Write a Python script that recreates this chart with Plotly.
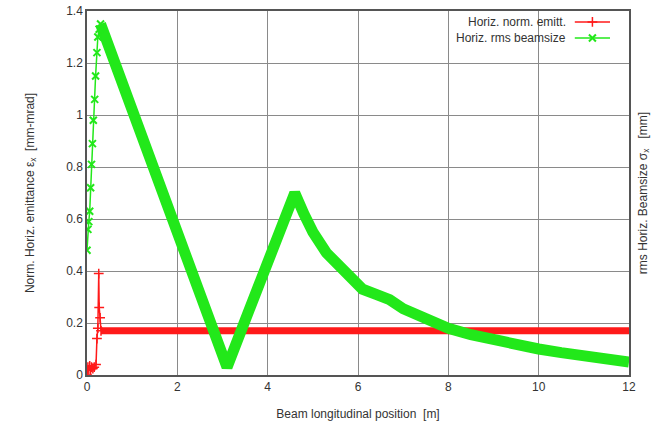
import plotly.graph_objects as go

# ---- data ----
# Horizontal rms beamsize: steep rise region (sparse markers) and dense main region
size_x_rise = [0.0, 0.02, 0.04, 0.06, 0.08, 0.10, 0.12, 0.14, 0.17, 0.19, 0.22, 0.24, 0.27, 0.30]
size_y_rise = [0.48, 0.56, 0.59, 0.63, 0.72, 0.81, 0.89, 0.98, 1.06, 1.15, 1.24, 1.30, 1.33, 1.35]
size_x_main = [0.30, 0.6, 1.0, 1.5, 2.0, 2.5, 3.1, 3.5, 4.0, 4.6, 4.8, 5.0, 5.3, 5.7, 6.1, 6.4, 6.7,
               7.0, 7.5, 8.0, 8.5, 9.0, 9.5, 10.0, 10.5, 11.0, 11.5, 12.0]
size_y_main = [1.35, 1.21, 1.02, 0.79, 0.56, 0.32, 0.03, 0.21, 0.43, 0.70, 0.62, 0.55, 0.47, 0.40, 0.33, 0.31, 0.29,
               0.255, 0.215, 0.18, 0.155, 0.135, 0.117, 0.10, 0.086, 0.073, 0.061, 0.05]

# Horizontal normalized emittance
emit_x_rise = [0.0, 0.02, 0.04, 0.06, 0.08, 0.10, 0.13, 0.16, 0.20, 0.22, 0.24, 0.26, 0.27, 0.29, 0.31]
emit_y_rise = [0.0, 0.03, 0.02, 0.035, 0.02, 0.03, 0.025, 0.03, 0.04, 0.14, 0.18, 0.39, 0.26, 0.22, 0.17]
emit_x_main = [0.31, 1.0, 2.0, 3.0, 4.0, 5.0, 6.0, 7.0, 8.0, 9.0, 10.0, 11.0, 12.0]
emit_y_main = [0.17, 0.17, 0.17, 0.17, 0.17, 0.17, 0.17, 0.17, 0.17, 0.17, 0.17, 0.17, 0.17]

x_ticks = [0, 2, 4, 6, 8, 10, 12]
y_ticks = [0, 0.2, 0.4, 0.6, 0.8, 1, 1.2, 1.4]
y_tick_labels = ["0", "0.2", "0.4", "0.6", "0.8", "1", "1.2", "1.4"]

legend_labels = ["Horiz. norm. emitt.", "Horiz. rms beamsize"]

RED = "#ff1a1a"
GREEN = "#22e81a"
TXT = "#333333"
FONT = "Liberation Sans, Arial, sans-serif"

fig = go.Figure()

# emittance
fig.add_trace(go.Scatter(x=emit_x_main, y=emit_y_main, mode="lines",
                         line=dict(color=RED, width=7), showlegend=False, hoverinfo="skip"))
fig.add_trace(go.Scatter(x=emit_x_rise, y=emit_y_rise, mode="lines+markers",
                         line=dict(color=RED, width=1.5),
                         marker=dict(symbol="cross-thin", size=7, line=dict(color=RED, width=1.5)),
                         showlegend=False))
# beamsize
fig.add_trace(go.Scatter(x=size_x_main, y=size_y_main, mode="lines",
                         line=dict(color=GREEN, width=11), showlegend=False))
fig.add_trace(go.Scatter(x=size_x_rise, y=size_y_rise, mode="lines+markers",
                         line=dict(color=GREEN, width=1.5),
                         marker=dict(symbol="x-thin", size=7, line=dict(color=GREEN, width=2)),
                         showlegend=False))

# legend samples drawn on a hidden 0..1 axis pair
LY = [0.970, 0.926]
fig.add_trace(go.Scatter(x=[0.900, 0.965], y=[LY[0], LY[0]], xaxis="x3", yaxis="y3",
                         mode="lines", line=dict(color=RED, width=1.5), showlegend=False, hoverinfo="skip"))
fig.add_trace(go.Scatter(x=[0.9325], y=[LY[0]], xaxis="x3", yaxis="y3", mode="markers",
                         marker=dict(symbol="cross-thin", size=7, line=dict(color=RED, width=1.5)),
                         showlegend=False, hoverinfo="skip"))
fig.add_trace(go.Scatter(x=[0.900, 0.965], y=[LY[1], LY[1]], xaxis="x3", yaxis="y3",
                         mode="lines", line=dict(color=GREEN, width=1.5), showlegend=False, hoverinfo="skip"))
fig.add_trace(go.Scatter(x=[0.9325], y=[LY[1]], xaxis="x3", yaxis="y3", mode="markers",
                         marker=dict(symbol="x-thin", size=7, line=dict(color=GREEN, width=2)),
                         showlegend=False, hoverinfo="skip"))

for i, lab in enumerate(legend_labels):
    fig.add_annotation(x=0.887, y=LY[i], xref="paper", yref="paper", text=lab,
                       showarrow=False, xanchor="right", yanchor="middle",
                       font=dict(family=FONT, size=12, color=TXT))

fig.update_layout(
    width=659, height=425,
    margin=dict(l=87, r=30, t=11, b=50),
    paper_bgcolor="white", plot_bgcolor="white",
    font=dict(family=FONT, size=12, color=TXT),
    xaxis=dict(range=[0, 12], tickvals=x_ticks, ticktext=[str(v) for v in x_ticks],
               showgrid=True, gridcolor="#8a8a8a", gridwidth=1, zeroline=False,
               showline=True, linecolor="#555", linewidth=1.5, mirror=True,
               ticks="", tickfont=dict(size=12, color=TXT), automargin=False,
               title=dict(text="Beam longitudinal position  [m]", standoff=16,
                          font=dict(size=12, color=TXT))),
    yaxis=dict(range=[0, 1.4], tickvals=y_ticks, ticktext=y_tick_labels,
               showgrid=True, gridcolor="#8a8a8a", gridwidth=1, zeroline=False,
               showline=True, linecolor="#555", linewidth=1.5, mirror=True,
               ticks="", tickfont=dict(size=12, color=TXT), automargin=False,
               title=dict(text="Norm. Horiz. emittance ε<sub>x</sub>  [mm-mrad]", standoff=29,
                          font=dict(size=12, color=TXT))),
    yaxis2=dict(range=[0, 1.4], overlaying="y", side="right", showticklabels=False,
                showgrid=False, zeroline=False, ticks="", automargin=False,
                title=dict(text="rms Horiz. Beamsize σ<sub>x</sub>   [mm]", standoff=9,
                           font=dict(size=12, color=TXT))),
    xaxis3=dict(domain=[0, 1], range=[0, 1], visible=False, anchor="y3", overlaying="x"),
    yaxis3=dict(domain=[0, 1], range=[0, 1], visible=False, anchor="x3", overlaying="y"),
)
# dummy trace to show the right axis title
fig.add_trace(go.Scatter(x=[None], y=[None], yaxis="y2", showlegend=False))

fig.write_html("out.html", config={"displayModeBar": False, "displaylogo": False},
               post_script="document.body.style.margin='0';")
